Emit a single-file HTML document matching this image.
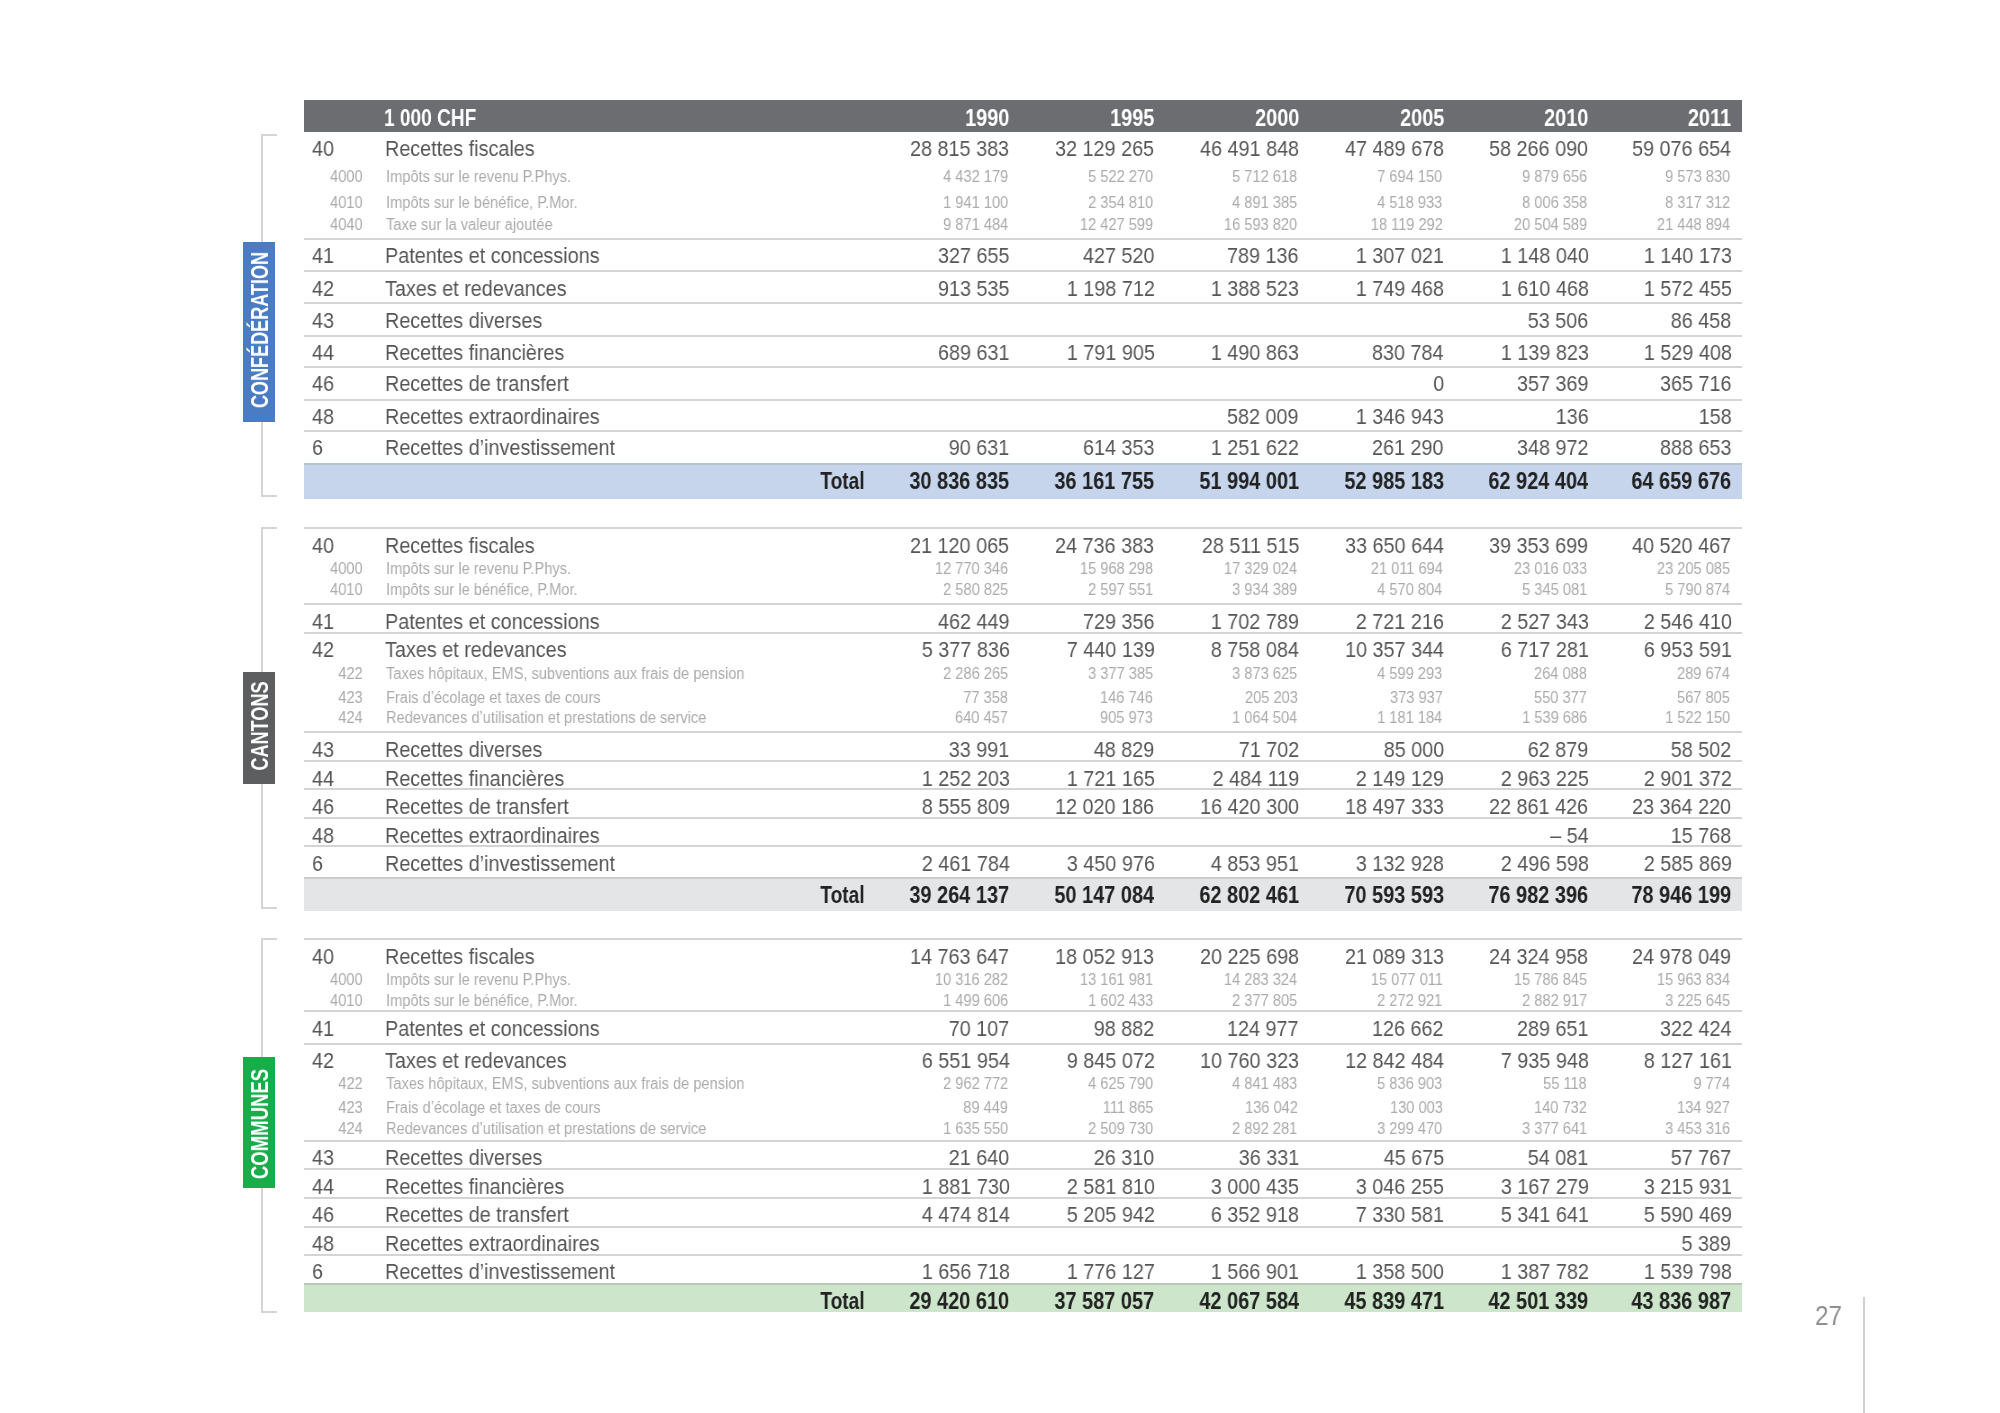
<!DOCTYPE html>
<html><head><meta charset="utf-8"><title>Recettes</title>
<style>
html,body{margin:0;padding:0;background:#fff;}
body{width:2000px;height:1413px;position:relative;overflow:hidden;font-family:"Liberation Sans",sans-serif;}
.t{position:absolute;white-space:nowrap;line-height:1;will-change:transform;}
.r{position:absolute;}
.side{position:absolute;will-change:transform;font-weight:bold;font-size:24px;color:#fff;white-space:nowrap;line-height:24px;text-align:center;transform-origin:50% 50%;}
</style></head><body>
<div class="r" style="left:304.0px;top:100.0px;width:1438.0px;height:32.0px;background:#6b6d71"></div>
<div class="t" style="left:384.3px;top:106.1px;font-size:24px;color:#fff;font-weight:bold;transform:scaleX(0.795);transform-origin:0 0;">1 000 CHF</div>
<div class="t" style="right:990.5px;top:106.1px;font-size:24px;color:#fff;font-weight:bold;transform:scaleX(0.83);transform-origin:100% 0;">1990</div>
<div class="t" style="right:845.5px;top:106.1px;font-size:24px;color:#fff;font-weight:bold;transform:scaleX(0.83);transform-origin:100% 0;">1995</div>
<div class="t" style="right:701.0px;top:106.1px;font-size:24px;color:#fff;font-weight:bold;transform:scaleX(0.83);transform-origin:100% 0;">2000</div>
<div class="t" style="right:556.0px;top:106.1px;font-size:24px;color:#fff;font-weight:bold;transform:scaleX(0.83);transform-origin:100% 0;">2005</div>
<div class="t" style="right:411.5px;top:106.1px;font-size:24px;color:#fff;font-weight:bold;transform:scaleX(0.83);transform-origin:100% 0;">2010</div>
<div class="t" style="right:268.5px;top:106.1px;font-size:24px;color:#fff;font-weight:bold;transform:scaleX(0.83);transform-origin:100% 0;">2011</div>
<div class="r" style="left:304.0px;top:463.4px;width:1438.0px;height:35.3px;background:#c6d5eb"></div>
<div class="r" style="left:304.0px;top:876.8px;width:1438.0px;height:34.2px;background:#e4e5e7"></div>
<div class="r" style="left:304.0px;top:1283.2px;width:1438.0px;height:29.3px;background:#cde6cb"></div>
<div class="r" style="left:304.0px;top:463.3px;width:1438.0px;height:2.0px;background:#b8c2cf"></div>
<div class="r" style="left:304.0px;top:876.5px;width:1438.0px;height:2.0px;background:#c9cbce"></div>
<div class="r" style="left:304.0px;top:1282.8px;width:1438.0px;height:2.0px;background:#b9c8b9"></div>
<div class="r" style="left:304.0px;top:237.6px;width:1438.0px;height:2.0px;background:#d3d4d6"></div>
<div class="r" style="left:304.0px;top:270.0px;width:1438.0px;height:2.0px;background:#d3d4d6"></div>
<div class="r" style="left:304.0px;top:301.7px;width:1438.0px;height:2.0px;background:#d3d4d6"></div>
<div class="r" style="left:304.0px;top:334.7px;width:1438.0px;height:2.0px;background:#d3d4d6"></div>
<div class="r" style="left:304.0px;top:365.9px;width:1438.0px;height:2.0px;background:#d3d4d6"></div>
<div class="r" style="left:304.0px;top:398.9px;width:1438.0px;height:2.0px;background:#d3d4d6"></div>
<div class="r" style="left:304.0px;top:430.0px;width:1438.0px;height:2.0px;background:#d3d4d6"></div>
<div class="r" style="left:304.0px;top:527.3px;width:1438.0px;height:2.0px;background:#d3d4d6"></div>
<div class="r" style="left:304.0px;top:603.4px;width:1438.0px;height:2.0px;background:#d3d4d6"></div>
<div class="r" style="left:304.0px;top:631.9px;width:1438.0px;height:2.0px;background:#d3d4d6"></div>
<div class="r" style="left:304.0px;top:730.9px;width:1438.0px;height:2.0px;background:#d3d4d6"></div>
<div class="r" style="left:304.0px;top:759.7px;width:1438.0px;height:2.0px;background:#d3d4d6"></div>
<div class="r" style="left:304.0px;top:788.3px;width:1438.0px;height:2.0px;background:#d3d4d6"></div>
<div class="r" style="left:304.0px;top:817.0px;width:1438.0px;height:2.0px;background:#d3d4d6"></div>
<div class="r" style="left:304.0px;top:845.4px;width:1438.0px;height:2.0px;background:#d3d4d6"></div>
<div class="r" style="left:304.0px;top:937.8px;width:1438.0px;height:2.0px;background:#d3d4d6"></div>
<div class="r" style="left:304.0px;top:1009.5px;width:1438.0px;height:2.0px;background:#d3d4d6"></div>
<div class="r" style="left:304.0px;top:1042.5px;width:1438.0px;height:2.0px;background:#d3d4d6"></div>
<div class="r" style="left:304.0px;top:1139.7px;width:1438.0px;height:2.0px;background:#d3d4d6"></div>
<div class="r" style="left:304.0px;top:1168.2px;width:1438.0px;height:2.0px;background:#d3d4d6"></div>
<div class="r" style="left:304.0px;top:1197.0px;width:1438.0px;height:2.0px;background:#d3d4d6"></div>
<div class="r" style="left:304.0px;top:1225.5px;width:1438.0px;height:2.0px;background:#d3d4d6"></div>
<div class="r" style="left:304.0px;top:1254.3px;width:1438.0px;height:2.0px;background:#d3d4d6"></div>
<div class="r" style="left:261.0px;top:133.7px;width:2.0px;height:362.8px;background:#d5d5d5"></div>
<div class="r" style="left:261.0px;top:133.7px;width:16.0px;height:2.0px;background:#d5d5d5"></div>
<div class="r" style="left:261.0px;top:494.5px;width:16.0px;height:2.0px;background:#d5d5d5"></div>
<div class="r" style="left:261.0px;top:526.7px;width:2.0px;height:382.3px;background:#d5d5d5"></div>
<div class="r" style="left:261.0px;top:526.7px;width:16.0px;height:2.0px;background:#d5d5d5"></div>
<div class="r" style="left:261.0px;top:907.0px;width:16.0px;height:2.0px;background:#d5d5d5"></div>
<div class="r" style="left:261.0px;top:937.8px;width:2.0px;height:375.4px;background:#d5d5d5"></div>
<div class="r" style="left:261.0px;top:937.8px;width:16.0px;height:2.0px;background:#d5d5d5"></div>
<div class="r" style="left:261.0px;top:1311.2px;width:16.0px;height:2.0px;background:#d5d5d5"></div>
<div class="r" style="left:243.2px;top:242.2px;width:32.0px;height:179.5px;background:#4a7cc3"></div>
<div class="side" style="left:110.4px;top:317.5px;width:300px;height:24px;transform:rotate(-90deg) scaleX(0.752);">CONFÉDÉRATION</div>
<div class="r" style="left:243.2px;top:672.4px;width:32.0px;height:112.0px;background:#5d5e5f"></div>
<div class="side" style="left:110.4px;top:713.9px;width:300px;height:24px;transform:rotate(-90deg) scaleX(0.755);">CANTONS</div>
<div class="r" style="left:243.2px;top:1057.3px;width:32.0px;height:130.8px;background:#18ad4a"></div>
<div class="side" style="left:110.4px;top:1111.8px;width:300px;height:24px;transform:rotate(-90deg) scaleX(0.774);">COMMUNES</div>
<div class="t" style="left:312.3px;top:138.1px;font-size:22px;color:#565656;transform:scaleX(0.9);transform-origin:0 0;">40</div>
<div class="t" style="left:384.8px;top:138.1px;font-size:22px;color:#565656;transform:scaleX(0.9);transform-origin:0 0;">Recettes fiscales</div>
<div class="t" style="right:990.5px;top:138.1px;font-size:22px;color:#565656;transform:scaleX(0.9);transform-origin:100% 0;">28 815 383</div>
<div class="t" style="right:845.5px;top:138.1px;font-size:22px;color:#565656;transform:scaleX(0.9);transform-origin:100% 0;">32 129 265</div>
<div class="t" style="right:701.0px;top:138.1px;font-size:22px;color:#565656;transform:scaleX(0.9);transform-origin:100% 0;">46 491 848</div>
<div class="t" style="right:556.0px;top:138.1px;font-size:22px;color:#565656;transform:scaleX(0.9);transform-origin:100% 0;">47 489 678</div>
<div class="t" style="right:411.5px;top:138.1px;font-size:22px;color:#565656;transform:scaleX(0.9);transform-origin:100% 0;">58 266 090</div>
<div class="t" style="right:268.5px;top:138.1px;font-size:22px;color:#565656;transform:scaleX(0.9);transform-origin:100% 0;">59 076 654</div>
<div class="t" style="right:1637.0px;top:169.0px;font-size:16px;color:#ababab;transform:scaleX(0.914);transform-origin:100% 0;">4000</div>
<div class="t" style="left:386.0px;top:169.0px;font-size:16px;color:#ababab;transform:scaleX(0.914);transform-origin:0 0;">Impôts sur le revenu P.Phys.</div>
<div class="t" style="right:992.0px;top:169.0px;font-size:16px;color:#ababab;transform:scaleX(0.914);transform-origin:100% 0;">4 432 179</div>
<div class="t" style="right:847.0px;top:169.0px;font-size:16px;color:#ababab;transform:scaleX(0.914);transform-origin:100% 0;">5 522 270</div>
<div class="t" style="right:702.5px;top:169.0px;font-size:16px;color:#ababab;transform:scaleX(0.914);transform-origin:100% 0;">5 712 618</div>
<div class="t" style="right:557.5px;top:169.0px;font-size:16px;color:#ababab;transform:scaleX(0.914);transform-origin:100% 0;">7 694 150</div>
<div class="t" style="right:413.0px;top:169.0px;font-size:16px;color:#ababab;transform:scaleX(0.914);transform-origin:100% 0;">9 879 656</div>
<div class="t" style="right:270.0px;top:169.0px;font-size:16px;color:#ababab;transform:scaleX(0.914);transform-origin:100% 0;">9 573 830</div>
<div class="t" style="right:1637.0px;top:195.0px;font-size:16px;color:#ababab;transform:scaleX(0.914);transform-origin:100% 0;">4010</div>
<div class="t" style="left:386.0px;top:195.0px;font-size:16px;color:#ababab;transform:scaleX(0.914);transform-origin:0 0;">Impôts sur le bénéfice, P.Mor.</div>
<div class="t" style="right:992.0px;top:195.0px;font-size:16px;color:#ababab;transform:scaleX(0.914);transform-origin:100% 0;">1 941 100</div>
<div class="t" style="right:847.0px;top:195.0px;font-size:16px;color:#ababab;transform:scaleX(0.914);transform-origin:100% 0;">2 354 810</div>
<div class="t" style="right:702.5px;top:195.0px;font-size:16px;color:#ababab;transform:scaleX(0.914);transform-origin:100% 0;">4 891 385</div>
<div class="t" style="right:557.5px;top:195.0px;font-size:16px;color:#ababab;transform:scaleX(0.914);transform-origin:100% 0;">4 518 933</div>
<div class="t" style="right:413.0px;top:195.0px;font-size:16px;color:#ababab;transform:scaleX(0.914);transform-origin:100% 0;">8 006 358</div>
<div class="t" style="right:270.0px;top:195.0px;font-size:16px;color:#ababab;transform:scaleX(0.914);transform-origin:100% 0;">8 317 312</div>
<div class="t" style="right:1637.0px;top:216.5px;font-size:16px;color:#ababab;transform:scaleX(0.914);transform-origin:100% 0;">4040</div>
<div class="t" style="left:386.0px;top:216.5px;font-size:16px;color:#ababab;transform:scaleX(0.914);transform-origin:0 0;">Taxe sur la valeur ajoutée</div>
<div class="t" style="right:992.0px;top:216.5px;font-size:16px;color:#ababab;transform:scaleX(0.914);transform-origin:100% 0;">9 871 484</div>
<div class="t" style="right:847.0px;top:216.5px;font-size:16px;color:#ababab;transform:scaleX(0.914);transform-origin:100% 0;">12 427 599</div>
<div class="t" style="right:702.5px;top:216.5px;font-size:16px;color:#ababab;transform:scaleX(0.914);transform-origin:100% 0;">16 593 820</div>
<div class="t" style="right:557.5px;top:216.5px;font-size:16px;color:#ababab;transform:scaleX(0.914);transform-origin:100% 0;">18 119 292</div>
<div class="t" style="right:413.0px;top:216.5px;font-size:16px;color:#ababab;transform:scaleX(0.914);transform-origin:100% 0;">20 504 589</div>
<div class="t" style="right:270.0px;top:216.5px;font-size:16px;color:#ababab;transform:scaleX(0.914);transform-origin:100% 0;">21 448 894</div>
<div class="t" style="left:312.3px;top:245.1px;font-size:22px;color:#565656;transform:scaleX(0.9);transform-origin:0 0;">41</div>
<div class="t" style="left:384.8px;top:245.1px;font-size:22px;color:#565656;transform:scaleX(0.9);transform-origin:0 0;">Patentes et concessions</div>
<div class="t" style="right:990.5px;top:245.1px;font-size:22px;color:#565656;transform:scaleX(0.9);transform-origin:100% 0;">327 655</div>
<div class="t" style="right:845.5px;top:245.1px;font-size:22px;color:#565656;transform:scaleX(0.9);transform-origin:100% 0;">427 520</div>
<div class="t" style="right:701.0px;top:245.1px;font-size:22px;color:#565656;transform:scaleX(0.9);transform-origin:100% 0;">789 136</div>
<div class="t" style="right:556.0px;top:245.1px;font-size:22px;color:#565656;transform:scaleX(0.9);transform-origin:100% 0;">1 307 021</div>
<div class="t" style="right:411.5px;top:245.1px;font-size:22px;color:#565656;transform:scaleX(0.9);transform-origin:100% 0;">1 148 040</div>
<div class="t" style="right:268.5px;top:245.1px;font-size:22px;color:#565656;transform:scaleX(0.9);transform-origin:100% 0;">1 140 173</div>
<div class="t" style="left:312.3px;top:278.1px;font-size:22px;color:#565656;transform:scaleX(0.9);transform-origin:0 0;">42</div>
<div class="t" style="left:384.8px;top:278.1px;font-size:22px;color:#565656;transform:scaleX(0.9);transform-origin:0 0;">Taxes et redevances</div>
<div class="t" style="right:990.5px;top:278.1px;font-size:22px;color:#565656;transform:scaleX(0.9);transform-origin:100% 0;">913 535</div>
<div class="t" style="right:845.5px;top:278.1px;font-size:22px;color:#565656;transform:scaleX(0.9);transform-origin:100% 0;">1 198 712</div>
<div class="t" style="right:701.0px;top:278.1px;font-size:22px;color:#565656;transform:scaleX(0.9);transform-origin:100% 0;">1 388 523</div>
<div class="t" style="right:556.0px;top:278.1px;font-size:22px;color:#565656;transform:scaleX(0.9);transform-origin:100% 0;">1 749 468</div>
<div class="t" style="right:411.5px;top:278.1px;font-size:22px;color:#565656;transform:scaleX(0.9);transform-origin:100% 0;">1 610 468</div>
<div class="t" style="right:268.5px;top:278.1px;font-size:22px;color:#565656;transform:scaleX(0.9);transform-origin:100% 0;">1 572 455</div>
<div class="t" style="left:312.3px;top:309.6px;font-size:22px;color:#565656;transform:scaleX(0.9);transform-origin:0 0;">43</div>
<div class="t" style="left:384.8px;top:309.6px;font-size:22px;color:#565656;transform:scaleX(0.9);transform-origin:0 0;">Recettes diverses</div>
<div class="t" style="right:411.5px;top:309.6px;font-size:22px;color:#565656;transform:scaleX(0.9);transform-origin:100% 0;">53 506</div>
<div class="t" style="right:268.5px;top:309.6px;font-size:22px;color:#565656;transform:scaleX(0.9);transform-origin:100% 0;">86 458</div>
<div class="t" style="left:312.3px;top:342.1px;font-size:22px;color:#565656;transform:scaleX(0.9);transform-origin:0 0;">44</div>
<div class="t" style="left:384.8px;top:342.1px;font-size:22px;color:#565656;transform:scaleX(0.9);transform-origin:0 0;">Recettes financières</div>
<div class="t" style="right:990.5px;top:342.1px;font-size:22px;color:#565656;transform:scaleX(0.9);transform-origin:100% 0;">689 631</div>
<div class="t" style="right:845.5px;top:342.1px;font-size:22px;color:#565656;transform:scaleX(0.9);transform-origin:100% 0;">1 791 905</div>
<div class="t" style="right:701.0px;top:342.1px;font-size:22px;color:#565656;transform:scaleX(0.9);transform-origin:100% 0;">1 490 863</div>
<div class="t" style="right:556.0px;top:342.1px;font-size:22px;color:#565656;transform:scaleX(0.9);transform-origin:100% 0;">830 784</div>
<div class="t" style="right:411.5px;top:342.1px;font-size:22px;color:#565656;transform:scaleX(0.9);transform-origin:100% 0;">1 139 823</div>
<div class="t" style="right:268.5px;top:342.1px;font-size:22px;color:#565656;transform:scaleX(0.9);transform-origin:100% 0;">1 529 408</div>
<div class="t" style="left:312.3px;top:372.7px;font-size:22px;color:#565656;transform:scaleX(0.9);transform-origin:0 0;">46</div>
<div class="t" style="left:384.8px;top:372.7px;font-size:22px;color:#565656;transform:scaleX(0.9);transform-origin:0 0;">Recettes de transfert</div>
<div class="t" style="right:556.0px;top:372.7px;font-size:22px;color:#565656;transform:scaleX(0.9);transform-origin:100% 0;">0</div>
<div class="t" style="right:411.5px;top:372.7px;font-size:22px;color:#565656;transform:scaleX(0.9);transform-origin:100% 0;">357 369</div>
<div class="t" style="right:268.5px;top:372.7px;font-size:22px;color:#565656;transform:scaleX(0.9);transform-origin:100% 0;">365 716</div>
<div class="t" style="left:312.3px;top:406.1px;font-size:22px;color:#565656;transform:scaleX(0.9);transform-origin:0 0;">48</div>
<div class="t" style="left:384.8px;top:406.1px;font-size:22px;color:#565656;transform:scaleX(0.9);transform-origin:0 0;">Recettes extraordinaires</div>
<div class="t" style="right:701.0px;top:406.1px;font-size:22px;color:#565656;transform:scaleX(0.9);transform-origin:100% 0;">582 009</div>
<div class="t" style="right:556.0px;top:406.1px;font-size:22px;color:#565656;transform:scaleX(0.9);transform-origin:100% 0;">1 346 943</div>
<div class="t" style="right:411.5px;top:406.1px;font-size:22px;color:#565656;transform:scaleX(0.9);transform-origin:100% 0;">136</div>
<div class="t" style="right:268.5px;top:406.1px;font-size:22px;color:#565656;transform:scaleX(0.9);transform-origin:100% 0;">158</div>
<div class="t" style="left:312.3px;top:437.4px;font-size:22px;color:#565656;transform:scaleX(0.9);transform-origin:0 0;">6</div>
<div class="t" style="left:384.8px;top:437.4px;font-size:22px;color:#565656;transform:scaleX(0.9);transform-origin:0 0;">Recettes d’investissement</div>
<div class="t" style="right:990.5px;top:437.4px;font-size:22px;color:#565656;transform:scaleX(0.9);transform-origin:100% 0;">90 631</div>
<div class="t" style="right:845.5px;top:437.4px;font-size:22px;color:#565656;transform:scaleX(0.9);transform-origin:100% 0;">614 353</div>
<div class="t" style="right:701.0px;top:437.4px;font-size:22px;color:#565656;transform:scaleX(0.9);transform-origin:100% 0;">1 251 622</div>
<div class="t" style="right:556.0px;top:437.4px;font-size:22px;color:#565656;transform:scaleX(0.9);transform-origin:100% 0;">261 290</div>
<div class="t" style="right:411.5px;top:437.4px;font-size:22px;color:#565656;transform:scaleX(0.9);transform-origin:100% 0;">348 972</div>
<div class="t" style="right:268.5px;top:437.4px;font-size:22px;color:#565656;transform:scaleX(0.9);transform-origin:100% 0;">888 653</div>
<div class="t" style="right:1135.5px;top:468.5px;font-size:24px;color:#222;font-weight:bold;transform:scaleX(0.796);transform-origin:100% 0;">Total</div>
<div class="t" style="right:990.5px;top:468.5px;font-size:24px;color:#222;font-weight:bold;transform:scaleX(0.83);transform-origin:100% 0;">30 836 835</div>
<div class="t" style="right:845.5px;top:468.5px;font-size:24px;color:#222;font-weight:bold;transform:scaleX(0.83);transform-origin:100% 0;">36 161 755</div>
<div class="t" style="right:701.0px;top:468.5px;font-size:24px;color:#222;font-weight:bold;transform:scaleX(0.83);transform-origin:100% 0;">51 994 001</div>
<div class="t" style="right:556.0px;top:468.5px;font-size:24px;color:#222;font-weight:bold;transform:scaleX(0.83);transform-origin:100% 0;">52 985 183</div>
<div class="t" style="right:411.5px;top:468.5px;font-size:24px;color:#222;font-weight:bold;transform:scaleX(0.83);transform-origin:100% 0;">62 924 404</div>
<div class="t" style="right:268.5px;top:468.5px;font-size:24px;color:#222;font-weight:bold;transform:scaleX(0.83);transform-origin:100% 0;">64 659 676</div>
<div class="t" style="left:312.3px;top:535.1px;font-size:22px;color:#565656;transform:scaleX(0.9);transform-origin:0 0;">40</div>
<div class="t" style="left:384.8px;top:535.1px;font-size:22px;color:#565656;transform:scaleX(0.9);transform-origin:0 0;">Recettes fiscales</div>
<div class="t" style="right:990.5px;top:535.1px;font-size:22px;color:#565656;transform:scaleX(0.9);transform-origin:100% 0;">21 120 065</div>
<div class="t" style="right:845.5px;top:535.1px;font-size:22px;color:#565656;transform:scaleX(0.9);transform-origin:100% 0;">24 736 383</div>
<div class="t" style="right:701.0px;top:535.1px;font-size:22px;color:#565656;transform:scaleX(0.9);transform-origin:100% 0;">28 511 515</div>
<div class="t" style="right:556.0px;top:535.1px;font-size:22px;color:#565656;transform:scaleX(0.9);transform-origin:100% 0;">33 650 644</div>
<div class="t" style="right:411.5px;top:535.1px;font-size:22px;color:#565656;transform:scaleX(0.9);transform-origin:100% 0;">39 353 699</div>
<div class="t" style="right:268.5px;top:535.1px;font-size:22px;color:#565656;transform:scaleX(0.9);transform-origin:100% 0;">40 520 467</div>
<div class="t" style="right:1637.0px;top:561.0px;font-size:16px;color:#ababab;transform:scaleX(0.914);transform-origin:100% 0;">4000</div>
<div class="t" style="left:386.0px;top:561.0px;font-size:16px;color:#ababab;transform:scaleX(0.914);transform-origin:0 0;">Impôts sur le revenu P.Phys.</div>
<div class="t" style="right:992.0px;top:561.0px;font-size:16px;color:#ababab;transform:scaleX(0.914);transform-origin:100% 0;">12 770 346</div>
<div class="t" style="right:847.0px;top:561.0px;font-size:16px;color:#ababab;transform:scaleX(0.914);transform-origin:100% 0;">15 968 298</div>
<div class="t" style="right:702.5px;top:561.0px;font-size:16px;color:#ababab;transform:scaleX(0.914);transform-origin:100% 0;">17 329 024</div>
<div class="t" style="right:557.5px;top:561.0px;font-size:16px;color:#ababab;transform:scaleX(0.914);transform-origin:100% 0;">21 011 694</div>
<div class="t" style="right:413.0px;top:561.0px;font-size:16px;color:#ababab;transform:scaleX(0.914);transform-origin:100% 0;">23 016 033</div>
<div class="t" style="right:270.0px;top:561.0px;font-size:16px;color:#ababab;transform:scaleX(0.914);transform-origin:100% 0;">23 205 085</div>
<div class="t" style="right:1637.0px;top:582.0px;font-size:16px;color:#ababab;transform:scaleX(0.914);transform-origin:100% 0;">4010</div>
<div class="t" style="left:386.0px;top:582.0px;font-size:16px;color:#ababab;transform:scaleX(0.914);transform-origin:0 0;">Impôts sur le bénéfice, P.Mor.</div>
<div class="t" style="right:992.0px;top:582.0px;font-size:16px;color:#ababab;transform:scaleX(0.914);transform-origin:100% 0;">2 580 825</div>
<div class="t" style="right:847.0px;top:582.0px;font-size:16px;color:#ababab;transform:scaleX(0.914);transform-origin:100% 0;">2 597 551</div>
<div class="t" style="right:702.5px;top:582.0px;font-size:16px;color:#ababab;transform:scaleX(0.914);transform-origin:100% 0;">3 934 389</div>
<div class="t" style="right:557.5px;top:582.0px;font-size:16px;color:#ababab;transform:scaleX(0.914);transform-origin:100% 0;">4 570 804</div>
<div class="t" style="right:413.0px;top:582.0px;font-size:16px;color:#ababab;transform:scaleX(0.914);transform-origin:100% 0;">5 345 081</div>
<div class="t" style="right:270.0px;top:582.0px;font-size:16px;color:#ababab;transform:scaleX(0.914);transform-origin:100% 0;">5 790 874</div>
<div class="t" style="left:312.3px;top:611.1px;font-size:22px;color:#565656;transform:scaleX(0.9);transform-origin:0 0;">41</div>
<div class="t" style="left:384.8px;top:611.1px;font-size:22px;color:#565656;transform:scaleX(0.9);transform-origin:0 0;">Patentes et concessions</div>
<div class="t" style="right:990.5px;top:611.1px;font-size:22px;color:#565656;transform:scaleX(0.9);transform-origin:100% 0;">462 449</div>
<div class="t" style="right:845.5px;top:611.1px;font-size:22px;color:#565656;transform:scaleX(0.9);transform-origin:100% 0;">729 356</div>
<div class="t" style="right:701.0px;top:611.1px;font-size:22px;color:#565656;transform:scaleX(0.9);transform-origin:100% 0;">1 702 789</div>
<div class="t" style="right:556.0px;top:611.1px;font-size:22px;color:#565656;transform:scaleX(0.9);transform-origin:100% 0;">2 721 216</div>
<div class="t" style="right:411.5px;top:611.1px;font-size:22px;color:#565656;transform:scaleX(0.9);transform-origin:100% 0;">2 527 343</div>
<div class="t" style="right:268.5px;top:611.1px;font-size:22px;color:#565656;transform:scaleX(0.9);transform-origin:100% 0;">2 546 410</div>
<div class="t" style="left:312.3px;top:639.4px;font-size:22px;color:#565656;transform:scaleX(0.9);transform-origin:0 0;">42</div>
<div class="t" style="left:384.8px;top:639.4px;font-size:22px;color:#565656;transform:scaleX(0.9);transform-origin:0 0;">Taxes et redevances</div>
<div class="t" style="right:990.5px;top:639.4px;font-size:22px;color:#565656;transform:scaleX(0.9);transform-origin:100% 0;">5 377 836</div>
<div class="t" style="right:845.5px;top:639.4px;font-size:22px;color:#565656;transform:scaleX(0.9);transform-origin:100% 0;">7 440 139</div>
<div class="t" style="right:701.0px;top:639.4px;font-size:22px;color:#565656;transform:scaleX(0.9);transform-origin:100% 0;">8 758 084</div>
<div class="t" style="right:556.0px;top:639.4px;font-size:22px;color:#565656;transform:scaleX(0.9);transform-origin:100% 0;">10 357 344</div>
<div class="t" style="right:411.5px;top:639.4px;font-size:22px;color:#565656;transform:scaleX(0.9);transform-origin:100% 0;">6 717 281</div>
<div class="t" style="right:268.5px;top:639.4px;font-size:22px;color:#565656;transform:scaleX(0.9);transform-origin:100% 0;">6 953 591</div>
<div class="t" style="right:1637.0px;top:666.0px;font-size:16px;color:#ababab;transform:scaleX(0.914);transform-origin:100% 0;">422</div>
<div class="t" style="left:386.0px;top:666.0px;font-size:16px;color:#ababab;transform:scaleX(0.914);transform-origin:0 0;">Taxes hôpitaux, EMS, subventions aux frais de pension</div>
<div class="t" style="right:992.0px;top:666.0px;font-size:16px;color:#ababab;transform:scaleX(0.914);transform-origin:100% 0;">2 286 265</div>
<div class="t" style="right:847.0px;top:666.0px;font-size:16px;color:#ababab;transform:scaleX(0.914);transform-origin:100% 0;">3 377 385</div>
<div class="t" style="right:702.5px;top:666.0px;font-size:16px;color:#ababab;transform:scaleX(0.914);transform-origin:100% 0;">3 873 625</div>
<div class="t" style="right:557.5px;top:666.0px;font-size:16px;color:#ababab;transform:scaleX(0.914);transform-origin:100% 0;">4 599 293</div>
<div class="t" style="right:413.0px;top:666.0px;font-size:16px;color:#ababab;transform:scaleX(0.914);transform-origin:100% 0;">264 088</div>
<div class="t" style="right:270.0px;top:666.0px;font-size:16px;color:#ababab;transform:scaleX(0.914);transform-origin:100% 0;">289 674</div>
<div class="t" style="right:1637.0px;top:689.5px;font-size:16px;color:#ababab;transform:scaleX(0.914);transform-origin:100% 0;">423</div>
<div class="t" style="left:386.0px;top:689.5px;font-size:16px;color:#ababab;transform:scaleX(0.914);transform-origin:0 0;">Frais d’écolage et taxes de cours</div>
<div class="t" style="right:992.0px;top:689.5px;font-size:16px;color:#ababab;transform:scaleX(0.914);transform-origin:100% 0;">77 358</div>
<div class="t" style="right:847.0px;top:689.5px;font-size:16px;color:#ababab;transform:scaleX(0.914);transform-origin:100% 0;">146 746</div>
<div class="t" style="right:702.5px;top:689.5px;font-size:16px;color:#ababab;transform:scaleX(0.914);transform-origin:100% 0;">205 203</div>
<div class="t" style="right:557.5px;top:689.5px;font-size:16px;color:#ababab;transform:scaleX(0.914);transform-origin:100% 0;">373 937</div>
<div class="t" style="right:413.0px;top:689.5px;font-size:16px;color:#ababab;transform:scaleX(0.914);transform-origin:100% 0;">550 377</div>
<div class="t" style="right:270.0px;top:689.5px;font-size:16px;color:#ababab;transform:scaleX(0.914);transform-origin:100% 0;">567 805</div>
<div class="t" style="right:1637.0px;top:710.4px;font-size:16px;color:#ababab;transform:scaleX(0.914);transform-origin:100% 0;">424</div>
<div class="t" style="left:386.0px;top:710.4px;font-size:16px;color:#ababab;transform:scaleX(0.914);transform-origin:0 0;">Redevances d’utilisation et prestations de service</div>
<div class="t" style="right:992.0px;top:710.4px;font-size:16px;color:#ababab;transform:scaleX(0.914);transform-origin:100% 0;">640 457</div>
<div class="t" style="right:847.0px;top:710.4px;font-size:16px;color:#ababab;transform:scaleX(0.914);transform-origin:100% 0;">905 973</div>
<div class="t" style="right:702.5px;top:710.4px;font-size:16px;color:#ababab;transform:scaleX(0.914);transform-origin:100% 0;">1 064 504</div>
<div class="t" style="right:557.5px;top:710.4px;font-size:16px;color:#ababab;transform:scaleX(0.914);transform-origin:100% 0;">1 181 184</div>
<div class="t" style="right:413.0px;top:710.4px;font-size:16px;color:#ababab;transform:scaleX(0.914);transform-origin:100% 0;">1 539 686</div>
<div class="t" style="right:270.0px;top:710.4px;font-size:16px;color:#ababab;transform:scaleX(0.914);transform-origin:100% 0;">1 522 150</div>
<div class="t" style="left:312.3px;top:739.1px;font-size:22px;color:#565656;transform:scaleX(0.9);transform-origin:0 0;">43</div>
<div class="t" style="left:384.8px;top:739.1px;font-size:22px;color:#565656;transform:scaleX(0.9);transform-origin:0 0;">Recettes diverses</div>
<div class="t" style="right:990.5px;top:739.1px;font-size:22px;color:#565656;transform:scaleX(0.9);transform-origin:100% 0;">33 991</div>
<div class="t" style="right:845.5px;top:739.1px;font-size:22px;color:#565656;transform:scaleX(0.9);transform-origin:100% 0;">48 829</div>
<div class="t" style="right:701.0px;top:739.1px;font-size:22px;color:#565656;transform:scaleX(0.9);transform-origin:100% 0;">71 702</div>
<div class="t" style="right:556.0px;top:739.1px;font-size:22px;color:#565656;transform:scaleX(0.9);transform-origin:100% 0;">85 000</div>
<div class="t" style="right:411.5px;top:739.1px;font-size:22px;color:#565656;transform:scaleX(0.9);transform-origin:100% 0;">62 879</div>
<div class="t" style="right:268.5px;top:739.1px;font-size:22px;color:#565656;transform:scaleX(0.9);transform-origin:100% 0;">58 502</div>
<div class="t" style="left:312.3px;top:767.5px;font-size:22px;color:#565656;transform:scaleX(0.9);transform-origin:0 0;">44</div>
<div class="t" style="left:384.8px;top:767.5px;font-size:22px;color:#565656;transform:scaleX(0.9);transform-origin:0 0;">Recettes financières</div>
<div class="t" style="right:990.5px;top:767.5px;font-size:22px;color:#565656;transform:scaleX(0.9);transform-origin:100% 0;">1 252 203</div>
<div class="t" style="right:845.5px;top:767.5px;font-size:22px;color:#565656;transform:scaleX(0.9);transform-origin:100% 0;">1 721 165</div>
<div class="t" style="right:701.0px;top:767.5px;font-size:22px;color:#565656;transform:scaleX(0.9);transform-origin:100% 0;">2 484 119</div>
<div class="t" style="right:556.0px;top:767.5px;font-size:22px;color:#565656;transform:scaleX(0.9);transform-origin:100% 0;">2 149 129</div>
<div class="t" style="right:411.5px;top:767.5px;font-size:22px;color:#565656;transform:scaleX(0.9);transform-origin:100% 0;">2 963 225</div>
<div class="t" style="right:268.5px;top:767.5px;font-size:22px;color:#565656;transform:scaleX(0.9);transform-origin:100% 0;">2 901 372</div>
<div class="t" style="left:312.3px;top:795.8px;font-size:22px;color:#565656;transform:scaleX(0.9);transform-origin:0 0;">46</div>
<div class="t" style="left:384.8px;top:795.8px;font-size:22px;color:#565656;transform:scaleX(0.9);transform-origin:0 0;">Recettes de transfert</div>
<div class="t" style="right:990.5px;top:795.8px;font-size:22px;color:#565656;transform:scaleX(0.9);transform-origin:100% 0;">8 555 809</div>
<div class="t" style="right:845.5px;top:795.8px;font-size:22px;color:#565656;transform:scaleX(0.9);transform-origin:100% 0;">12 020 186</div>
<div class="t" style="right:701.0px;top:795.8px;font-size:22px;color:#565656;transform:scaleX(0.9);transform-origin:100% 0;">16 420 300</div>
<div class="t" style="right:556.0px;top:795.8px;font-size:22px;color:#565656;transform:scaleX(0.9);transform-origin:100% 0;">18 497 333</div>
<div class="t" style="right:411.5px;top:795.8px;font-size:22px;color:#565656;transform:scaleX(0.9);transform-origin:100% 0;">22 861 426</div>
<div class="t" style="right:268.5px;top:795.8px;font-size:22px;color:#565656;transform:scaleX(0.9);transform-origin:100% 0;">23 364 220</div>
<div class="t" style="left:312.3px;top:824.6px;font-size:22px;color:#565656;transform:scaleX(0.9);transform-origin:0 0;">48</div>
<div class="t" style="left:384.8px;top:824.6px;font-size:22px;color:#565656;transform:scaleX(0.9);transform-origin:0 0;">Recettes extraordinaires</div>
<div class="t" style="right:411.5px;top:824.6px;font-size:22px;color:#565656;transform:scaleX(0.9);transform-origin:100% 0;">– 54</div>
<div class="t" style="right:268.5px;top:824.6px;font-size:22px;color:#565656;transform:scaleX(0.9);transform-origin:100% 0;">15 768</div>
<div class="t" style="left:312.3px;top:852.7px;font-size:22px;color:#565656;transform:scaleX(0.9);transform-origin:0 0;">6</div>
<div class="t" style="left:384.8px;top:852.7px;font-size:22px;color:#565656;transform:scaleX(0.9);transform-origin:0 0;">Recettes d’investissement</div>
<div class="t" style="right:990.5px;top:852.7px;font-size:22px;color:#565656;transform:scaleX(0.9);transform-origin:100% 0;">2 461 784</div>
<div class="t" style="right:845.5px;top:852.7px;font-size:22px;color:#565656;transform:scaleX(0.9);transform-origin:100% 0;">3 450 976</div>
<div class="t" style="right:701.0px;top:852.7px;font-size:22px;color:#565656;transform:scaleX(0.9);transform-origin:100% 0;">4 853 951</div>
<div class="t" style="right:556.0px;top:852.7px;font-size:22px;color:#565656;transform:scaleX(0.9);transform-origin:100% 0;">3 132 928</div>
<div class="t" style="right:411.5px;top:852.7px;font-size:22px;color:#565656;transform:scaleX(0.9);transform-origin:100% 0;">2 496 598</div>
<div class="t" style="right:268.5px;top:852.7px;font-size:22px;color:#565656;transform:scaleX(0.9);transform-origin:100% 0;">2 585 869</div>
<div class="t" style="right:1135.5px;top:882.7px;font-size:24px;color:#222;font-weight:bold;transform:scaleX(0.796);transform-origin:100% 0;">Total</div>
<div class="t" style="right:990.5px;top:882.7px;font-size:24px;color:#222;font-weight:bold;transform:scaleX(0.83);transform-origin:100% 0;">39 264 137</div>
<div class="t" style="right:845.5px;top:882.7px;font-size:24px;color:#222;font-weight:bold;transform:scaleX(0.83);transform-origin:100% 0;">50 147 084</div>
<div class="t" style="right:701.0px;top:882.7px;font-size:24px;color:#222;font-weight:bold;transform:scaleX(0.83);transform-origin:100% 0;">62 802 461</div>
<div class="t" style="right:556.0px;top:882.7px;font-size:24px;color:#222;font-weight:bold;transform:scaleX(0.83);transform-origin:100% 0;">70 593 593</div>
<div class="t" style="right:411.5px;top:882.7px;font-size:24px;color:#222;font-weight:bold;transform:scaleX(0.83);transform-origin:100% 0;">76 982 396</div>
<div class="t" style="right:268.5px;top:882.7px;font-size:24px;color:#222;font-weight:bold;transform:scaleX(0.83);transform-origin:100% 0;">78 946 199</div>
<div class="t" style="left:312.3px;top:945.8px;font-size:22px;color:#565656;transform:scaleX(0.9);transform-origin:0 0;">40</div>
<div class="t" style="left:384.8px;top:945.8px;font-size:22px;color:#565656;transform:scaleX(0.9);transform-origin:0 0;">Recettes fiscales</div>
<div class="t" style="right:990.5px;top:945.8px;font-size:22px;color:#565656;transform:scaleX(0.9);transform-origin:100% 0;">14 763 647</div>
<div class="t" style="right:845.5px;top:945.8px;font-size:22px;color:#565656;transform:scaleX(0.9);transform-origin:100% 0;">18 052 913</div>
<div class="t" style="right:701.0px;top:945.8px;font-size:22px;color:#565656;transform:scaleX(0.9);transform-origin:100% 0;">20 225 698</div>
<div class="t" style="right:556.0px;top:945.8px;font-size:22px;color:#565656;transform:scaleX(0.9);transform-origin:100% 0;">21 089 313</div>
<div class="t" style="right:411.5px;top:945.8px;font-size:22px;color:#565656;transform:scaleX(0.9);transform-origin:100% 0;">24 324 958</div>
<div class="t" style="right:268.5px;top:945.8px;font-size:22px;color:#565656;transform:scaleX(0.9);transform-origin:100% 0;">24 978 049</div>
<div class="t" style="right:1637.0px;top:971.8px;font-size:16px;color:#ababab;transform:scaleX(0.914);transform-origin:100% 0;">4000</div>
<div class="t" style="left:386.0px;top:971.8px;font-size:16px;color:#ababab;transform:scaleX(0.914);transform-origin:0 0;">Impôts sur le revenu P.Phys.</div>
<div class="t" style="right:992.0px;top:971.8px;font-size:16px;color:#ababab;transform:scaleX(0.914);transform-origin:100% 0;">10 316 282</div>
<div class="t" style="right:847.0px;top:971.8px;font-size:16px;color:#ababab;transform:scaleX(0.914);transform-origin:100% 0;">13 161 981</div>
<div class="t" style="right:702.5px;top:971.8px;font-size:16px;color:#ababab;transform:scaleX(0.914);transform-origin:100% 0;">14 283 324</div>
<div class="t" style="right:557.5px;top:971.8px;font-size:16px;color:#ababab;transform:scaleX(0.914);transform-origin:100% 0;">15 077 011</div>
<div class="t" style="right:413.0px;top:971.8px;font-size:16px;color:#ababab;transform:scaleX(0.914);transform-origin:100% 0;">15 786 845</div>
<div class="t" style="right:270.0px;top:971.8px;font-size:16px;color:#ababab;transform:scaleX(0.914);transform-origin:100% 0;">15 963 834</div>
<div class="t" style="right:1637.0px;top:992.8px;font-size:16px;color:#ababab;transform:scaleX(0.914);transform-origin:100% 0;">4010</div>
<div class="t" style="left:386.0px;top:992.8px;font-size:16px;color:#ababab;transform:scaleX(0.914);transform-origin:0 0;">Impôts sur le bénéfice, P.Mor.</div>
<div class="t" style="right:992.0px;top:992.8px;font-size:16px;color:#ababab;transform:scaleX(0.914);transform-origin:100% 0;">1 499 606</div>
<div class="t" style="right:847.0px;top:992.8px;font-size:16px;color:#ababab;transform:scaleX(0.914);transform-origin:100% 0;">1 602 433</div>
<div class="t" style="right:702.5px;top:992.8px;font-size:16px;color:#ababab;transform:scaleX(0.914);transform-origin:100% 0;">2 377 805</div>
<div class="t" style="right:557.5px;top:992.8px;font-size:16px;color:#ababab;transform:scaleX(0.914);transform-origin:100% 0;">2 272 921</div>
<div class="t" style="right:413.0px;top:992.8px;font-size:16px;color:#ababab;transform:scaleX(0.914);transform-origin:100% 0;">2 882 917</div>
<div class="t" style="right:270.0px;top:992.8px;font-size:16px;color:#ababab;transform:scaleX(0.914);transform-origin:100% 0;">3 225 645</div>
<div class="t" style="left:312.3px;top:1017.5px;font-size:22px;color:#565656;transform:scaleX(0.9);transform-origin:0 0;">41</div>
<div class="t" style="left:384.8px;top:1017.5px;font-size:22px;color:#565656;transform:scaleX(0.9);transform-origin:0 0;">Patentes et concessions</div>
<div class="t" style="right:990.5px;top:1017.5px;font-size:22px;color:#565656;transform:scaleX(0.9);transform-origin:100% 0;">70 107</div>
<div class="t" style="right:845.5px;top:1017.5px;font-size:22px;color:#565656;transform:scaleX(0.9);transform-origin:100% 0;">98 882</div>
<div class="t" style="right:701.0px;top:1017.5px;font-size:22px;color:#565656;transform:scaleX(0.9);transform-origin:100% 0;">124 977</div>
<div class="t" style="right:556.0px;top:1017.5px;font-size:22px;color:#565656;transform:scaleX(0.9);transform-origin:100% 0;">126 662</div>
<div class="t" style="right:411.5px;top:1017.5px;font-size:22px;color:#565656;transform:scaleX(0.9);transform-origin:100% 0;">289 651</div>
<div class="t" style="right:268.5px;top:1017.5px;font-size:22px;color:#565656;transform:scaleX(0.9);transform-origin:100% 0;">322 424</div>
<div class="t" style="left:312.3px;top:1050.1px;font-size:22px;color:#565656;transform:scaleX(0.9);transform-origin:0 0;">42</div>
<div class="t" style="left:384.8px;top:1050.1px;font-size:22px;color:#565656;transform:scaleX(0.9);transform-origin:0 0;">Taxes et redevances</div>
<div class="t" style="right:990.5px;top:1050.1px;font-size:22px;color:#565656;transform:scaleX(0.9);transform-origin:100% 0;">6 551 954</div>
<div class="t" style="right:845.5px;top:1050.1px;font-size:22px;color:#565656;transform:scaleX(0.9);transform-origin:100% 0;">9 845 072</div>
<div class="t" style="right:701.0px;top:1050.1px;font-size:22px;color:#565656;transform:scaleX(0.9);transform-origin:100% 0;">10 760 323</div>
<div class="t" style="right:556.0px;top:1050.1px;font-size:22px;color:#565656;transform:scaleX(0.9);transform-origin:100% 0;">12 842 484</div>
<div class="t" style="right:411.5px;top:1050.1px;font-size:22px;color:#565656;transform:scaleX(0.9);transform-origin:100% 0;">7 935 948</div>
<div class="t" style="right:268.5px;top:1050.1px;font-size:22px;color:#565656;transform:scaleX(0.9);transform-origin:100% 0;">8 127 161</div>
<div class="t" style="right:1637.0px;top:1076.0px;font-size:16px;color:#ababab;transform:scaleX(0.914);transform-origin:100% 0;">422</div>
<div class="t" style="left:386.0px;top:1076.0px;font-size:16px;color:#ababab;transform:scaleX(0.914);transform-origin:0 0;">Taxes hôpitaux, EMS, subventions aux frais de pension</div>
<div class="t" style="right:992.0px;top:1076.0px;font-size:16px;color:#ababab;transform:scaleX(0.914);transform-origin:100% 0;">2 962 772</div>
<div class="t" style="right:847.0px;top:1076.0px;font-size:16px;color:#ababab;transform:scaleX(0.914);transform-origin:100% 0;">4 625 790</div>
<div class="t" style="right:702.5px;top:1076.0px;font-size:16px;color:#ababab;transform:scaleX(0.914);transform-origin:100% 0;">4 841 483</div>
<div class="t" style="right:557.5px;top:1076.0px;font-size:16px;color:#ababab;transform:scaleX(0.914);transform-origin:100% 0;">5 836 903</div>
<div class="t" style="right:413.0px;top:1076.0px;font-size:16px;color:#ababab;transform:scaleX(0.914);transform-origin:100% 0;">55 118</div>
<div class="t" style="right:270.0px;top:1076.0px;font-size:16px;color:#ababab;transform:scaleX(0.914);transform-origin:100% 0;">9 774</div>
<div class="t" style="right:1637.0px;top:1100.0px;font-size:16px;color:#ababab;transform:scaleX(0.914);transform-origin:100% 0;">423</div>
<div class="t" style="left:386.0px;top:1100.0px;font-size:16px;color:#ababab;transform:scaleX(0.914);transform-origin:0 0;">Frais d’écolage et taxes de cours</div>
<div class="t" style="right:992.0px;top:1100.0px;font-size:16px;color:#ababab;transform:scaleX(0.914);transform-origin:100% 0;">89 449</div>
<div class="t" style="right:847.0px;top:1100.0px;font-size:16px;color:#ababab;transform:scaleX(0.914);transform-origin:100% 0;">111 865</div>
<div class="t" style="right:702.5px;top:1100.0px;font-size:16px;color:#ababab;transform:scaleX(0.914);transform-origin:100% 0;">136 042</div>
<div class="t" style="right:557.5px;top:1100.0px;font-size:16px;color:#ababab;transform:scaleX(0.914);transform-origin:100% 0;">130 003</div>
<div class="t" style="right:413.0px;top:1100.0px;font-size:16px;color:#ababab;transform:scaleX(0.914);transform-origin:100% 0;">140 732</div>
<div class="t" style="right:270.0px;top:1100.0px;font-size:16px;color:#ababab;transform:scaleX(0.914);transform-origin:100% 0;">134 927</div>
<div class="t" style="right:1637.0px;top:1121.0px;font-size:16px;color:#ababab;transform:scaleX(0.914);transform-origin:100% 0;">424</div>
<div class="t" style="left:386.0px;top:1121.0px;font-size:16px;color:#ababab;transform:scaleX(0.914);transform-origin:0 0;">Redevances d’utilisation et prestations de service</div>
<div class="t" style="right:992.0px;top:1121.0px;font-size:16px;color:#ababab;transform:scaleX(0.914);transform-origin:100% 0;">1 635 550</div>
<div class="t" style="right:847.0px;top:1121.0px;font-size:16px;color:#ababab;transform:scaleX(0.914);transform-origin:100% 0;">2 509 730</div>
<div class="t" style="right:702.5px;top:1121.0px;font-size:16px;color:#ababab;transform:scaleX(0.914);transform-origin:100% 0;">2 892 281</div>
<div class="t" style="right:557.5px;top:1121.0px;font-size:16px;color:#ababab;transform:scaleX(0.914);transform-origin:100% 0;">3 299 470</div>
<div class="t" style="right:413.0px;top:1121.0px;font-size:16px;color:#ababab;transform:scaleX(0.914);transform-origin:100% 0;">3 377 641</div>
<div class="t" style="right:270.0px;top:1121.0px;font-size:16px;color:#ababab;transform:scaleX(0.914);transform-origin:100% 0;">3 453 316</div>
<div class="t" style="left:312.3px;top:1147.4px;font-size:22px;color:#565656;transform:scaleX(0.9);transform-origin:0 0;">43</div>
<div class="t" style="left:384.8px;top:1147.4px;font-size:22px;color:#565656;transform:scaleX(0.9);transform-origin:0 0;">Recettes diverses</div>
<div class="t" style="right:990.5px;top:1147.4px;font-size:22px;color:#565656;transform:scaleX(0.9);transform-origin:100% 0;">21 640</div>
<div class="t" style="right:845.5px;top:1147.4px;font-size:22px;color:#565656;transform:scaleX(0.9);transform-origin:100% 0;">26 310</div>
<div class="t" style="right:701.0px;top:1147.4px;font-size:22px;color:#565656;transform:scaleX(0.9);transform-origin:100% 0;">36 331</div>
<div class="t" style="right:556.0px;top:1147.4px;font-size:22px;color:#565656;transform:scaleX(0.9);transform-origin:100% 0;">45 675</div>
<div class="t" style="right:411.5px;top:1147.4px;font-size:22px;color:#565656;transform:scaleX(0.9);transform-origin:100% 0;">54 081</div>
<div class="t" style="right:268.5px;top:1147.4px;font-size:22px;color:#565656;transform:scaleX(0.9);transform-origin:100% 0;">57 767</div>
<div class="t" style="left:312.3px;top:1176.2px;font-size:22px;color:#565656;transform:scaleX(0.9);transform-origin:0 0;">44</div>
<div class="t" style="left:384.8px;top:1176.2px;font-size:22px;color:#565656;transform:scaleX(0.9);transform-origin:0 0;">Recettes financières</div>
<div class="t" style="right:990.5px;top:1176.2px;font-size:22px;color:#565656;transform:scaleX(0.9);transform-origin:100% 0;">1 881 730</div>
<div class="t" style="right:845.5px;top:1176.2px;font-size:22px;color:#565656;transform:scaleX(0.9);transform-origin:100% 0;">2 581 810</div>
<div class="t" style="right:701.0px;top:1176.2px;font-size:22px;color:#565656;transform:scaleX(0.9);transform-origin:100% 0;">3 000 435</div>
<div class="t" style="right:556.0px;top:1176.2px;font-size:22px;color:#565656;transform:scaleX(0.9);transform-origin:100% 0;">3 046 255</div>
<div class="t" style="right:411.5px;top:1176.2px;font-size:22px;color:#565656;transform:scaleX(0.9);transform-origin:100% 0;">3 167 279</div>
<div class="t" style="right:268.5px;top:1176.2px;font-size:22px;color:#565656;transform:scaleX(0.9);transform-origin:100% 0;">3 215 931</div>
<div class="t" style="left:312.3px;top:1204.2px;font-size:22px;color:#565656;transform:scaleX(0.9);transform-origin:0 0;">46</div>
<div class="t" style="left:384.8px;top:1204.2px;font-size:22px;color:#565656;transform:scaleX(0.9);transform-origin:0 0;">Recettes de transfert</div>
<div class="t" style="right:990.5px;top:1204.2px;font-size:22px;color:#565656;transform:scaleX(0.9);transform-origin:100% 0;">4 474 814</div>
<div class="t" style="right:845.5px;top:1204.2px;font-size:22px;color:#565656;transform:scaleX(0.9);transform-origin:100% 0;">5 205 942</div>
<div class="t" style="right:701.0px;top:1204.2px;font-size:22px;color:#565656;transform:scaleX(0.9);transform-origin:100% 0;">6 352 918</div>
<div class="t" style="right:556.0px;top:1204.2px;font-size:22px;color:#565656;transform:scaleX(0.9);transform-origin:100% 0;">7 330 581</div>
<div class="t" style="right:411.5px;top:1204.2px;font-size:22px;color:#565656;transform:scaleX(0.9);transform-origin:100% 0;">5 341 641</div>
<div class="t" style="right:268.5px;top:1204.2px;font-size:22px;color:#565656;transform:scaleX(0.9);transform-origin:100% 0;">5 590 469</div>
<div class="t" style="left:312.3px;top:1233.1px;font-size:22px;color:#565656;transform:scaleX(0.9);transform-origin:0 0;">48</div>
<div class="t" style="left:384.8px;top:1233.1px;font-size:22px;color:#565656;transform:scaleX(0.9);transform-origin:0 0;">Recettes extraordinaires</div>
<div class="t" style="right:268.5px;top:1233.1px;font-size:22px;color:#565656;transform:scaleX(0.9);transform-origin:100% 0;">5 389</div>
<div class="t" style="left:312.3px;top:1261.1px;font-size:22px;color:#565656;transform:scaleX(0.9);transform-origin:0 0;">6</div>
<div class="t" style="left:384.8px;top:1261.1px;font-size:22px;color:#565656;transform:scaleX(0.9);transform-origin:0 0;">Recettes d’investissement</div>
<div class="t" style="right:990.5px;top:1261.1px;font-size:22px;color:#565656;transform:scaleX(0.9);transform-origin:100% 0;">1 656 718</div>
<div class="t" style="right:845.5px;top:1261.1px;font-size:22px;color:#565656;transform:scaleX(0.9);transform-origin:100% 0;">1 776 127</div>
<div class="t" style="right:701.0px;top:1261.1px;font-size:22px;color:#565656;transform:scaleX(0.9);transform-origin:100% 0;">1 566 901</div>
<div class="t" style="right:556.0px;top:1261.1px;font-size:22px;color:#565656;transform:scaleX(0.9);transform-origin:100% 0;">1 358 500</div>
<div class="t" style="right:411.5px;top:1261.1px;font-size:22px;color:#565656;transform:scaleX(0.9);transform-origin:100% 0;">1 387 782</div>
<div class="t" style="right:268.5px;top:1261.1px;font-size:22px;color:#565656;transform:scaleX(0.9);transform-origin:100% 0;">1 539 798</div>
<div class="t" style="right:1135.5px;top:1288.7px;font-size:24px;color:#222;font-weight:bold;transform:scaleX(0.796);transform-origin:100% 0;">Total</div>
<div class="t" style="right:990.5px;top:1288.7px;font-size:24px;color:#222;font-weight:bold;transform:scaleX(0.83);transform-origin:100% 0;">29 420 610</div>
<div class="t" style="right:845.5px;top:1288.7px;font-size:24px;color:#222;font-weight:bold;transform:scaleX(0.83);transform-origin:100% 0;">37 587 057</div>
<div class="t" style="right:701.0px;top:1288.7px;font-size:24px;color:#222;font-weight:bold;transform:scaleX(0.83);transform-origin:100% 0;">42 067 584</div>
<div class="t" style="right:556.0px;top:1288.7px;font-size:24px;color:#222;font-weight:bold;transform:scaleX(0.83);transform-origin:100% 0;">45 839 471</div>
<div class="t" style="right:411.5px;top:1288.7px;font-size:24px;color:#222;font-weight:bold;transform:scaleX(0.83);transform-origin:100% 0;">42 501 339</div>
<div class="t" style="right:268.5px;top:1288.7px;font-size:24px;color:#222;font-weight:bold;transform:scaleX(0.83);transform-origin:100% 0;">43 836 987</div>
<div class="t" style="right:158.0px;top:1302.9px;font-size:27px;color:#8f8f8f;transform:scaleX(0.9);transform-origin:100% 0;">27</div>
<div class="r" style="left:1863.2px;top:1297.0px;width:2.0px;height:116.0px;background:#cfcfcf"></div>
</body></html>
